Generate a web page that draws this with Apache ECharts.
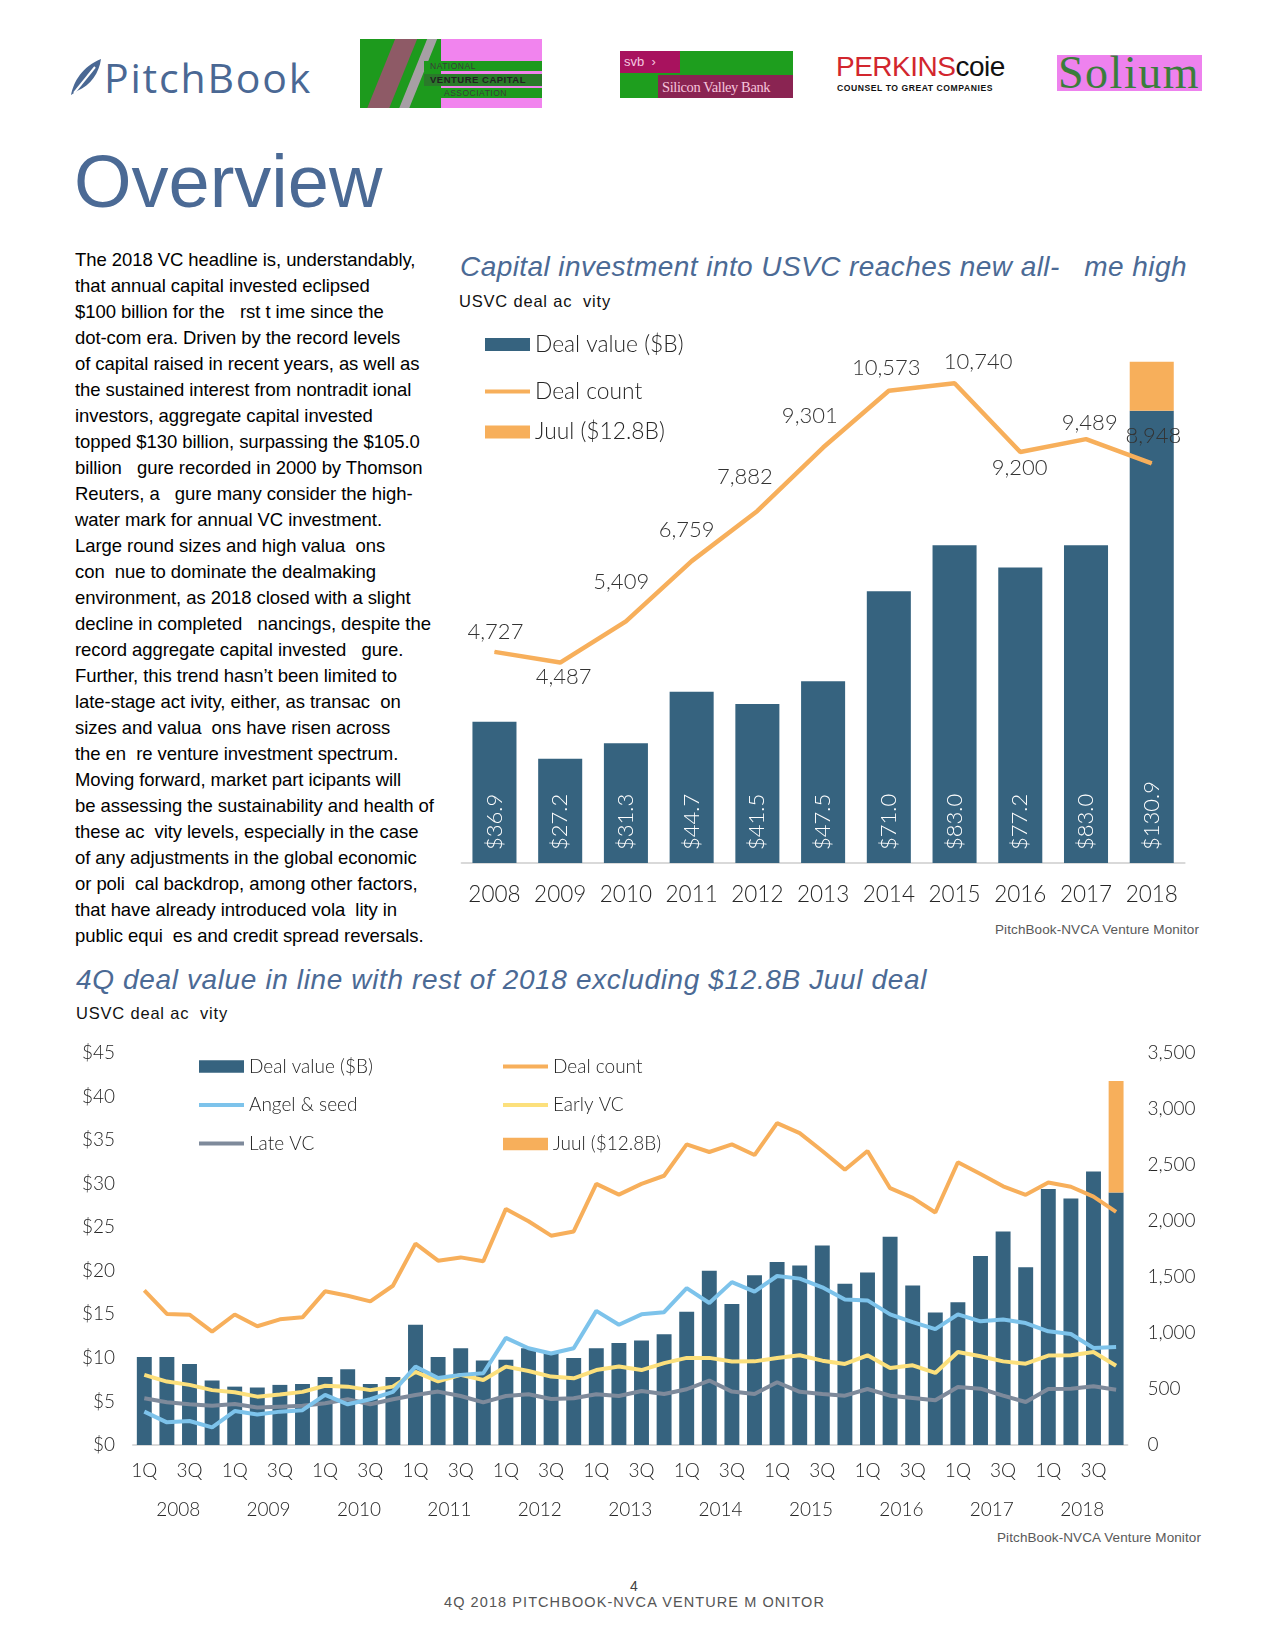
<!DOCTYPE html>
<html><head><meta charset="utf-8">
<script src="https://cdn.jsdelivr.net/npm/echarts@6/dist/echarts.min.js"></script>
<style>
html,body{margin:0;padding:0;background:#fff;}
#page{position:relative;width:1275px;height:1650px;overflow:hidden;font-family:'Liberation Sans',Arial,sans-serif;color:#000;}
.abs{position:absolute;white-space:pre;}
#chart{position:absolute;left:0;top:0;width:1275px;height:1650px;z-index:2;}
.body-text{position:absolute;left:75px;top:247px;font-size:18.5px;line-height:26px;letter-spacing:-0.07px;white-space:pre;}
.ttl{font-style:italic;color:#4B6A95;font-size:28px;line-height:34px;}
.sub{font-size:16.5px;line-height:20px;color:#111;}
.src{font-size:13.5px;line-height:18px;color:#595959;}
</style></head>
<body><div id="page">

<!-- header logos (decorative approximations) -->
<svg class="abs" style="left:68px;top:57px" width="36" height="40" viewBox="0 0 36 40">
  <path d="M3 38 C 6 24, 14 10, 33 2 C 31 16, 23 28, 9 34 Z" fill="#4A6894"/>
  <path d="M6 36 L 27 10" stroke="#fff" stroke-width="2"/>
</svg>
<div class="abs fit" data-w="208" style="left:104px;top:52px;font-family:'Open Sans';font-weight:500;font-size:41px;line-height:50px;color:#4A6894;">PitchBook</div>

<div class="abs" style="left:360px;top:39px;width:182px;height:69px;background:#1D9A1D;overflow:hidden;">
  <div class="abs" style="left:81px;top:0;width:101px;height:69px;background:#F184EE;"></div>
  <div class="abs" style="left:20px;top:-10px;width:22px;height:95px;background:#8E5A66;transform:skewX(-22deg);"></div>
  <div class="abs" style="left:52px;top:-10px;width:10px;height:95px;background:#C9A0C8;transform:skewX(-22deg);opacity:.8"></div>
  <div class="abs" style="left:64px;top:22px;width:118px;height:10px;background:#1D9A1D;"></div>
  <div class="abs" style="left:64px;top:35px;width:118px;height:12px;background:#2A7A2A;"></div>
  <div class="abs" style="left:64px;top:49px;width:118px;height:10px;background:#1D9A1D;"></div>
  <div class="abs" style="left:70px;top:22px;font-size:8.5px;line-height:10px;color:#3A3A3A;letter-spacing:.5px;">NATIONAL</div>
  <div class="abs" style="left:70px;top:35px;font-size:9.5px;line-height:12px;color:#222;letter-spacing:.5px;font-weight:bold;">VENTURE CAPITAL</div>
  <div class="abs" style="left:84px;top:49px;font-size:8.5px;line-height:10px;color:#3A3A3A;letter-spacing:.5px;">ASSOCIATION</div>
</div>

<div class="abs" style="left:620px;top:51px;width:173px;height:47px;background:#1E9E1E;overflow:hidden;">
  <div class="abs" style="left:0;top:0;width:60px;height:22px;background:#A8125E;"></div>
  <div class="abs" style="left:4px;top:2px;font-size:13px;line-height:18px;color:#F5C8E0;">svb  ›</div>
  <div class="abs" style="left:38px;top:24px;width:135px;height:23px;background:#8A2452;"></div>
  <div class="abs" style="left:42px;top:27px;font-family:'Liberation Serif';font-size:14.5px;line-height:18px;color:#F6C5DC;letter-spacing:-0.4px;">Silicon Valley Bank</div>
</div>

<div class="abs" style="left:836px;top:50px;font-size:28px;line-height:34px;letter-spacing:-0.5px;"><span style="color:#D2262E;">PERKINS</span><span style="color:#111;">coie</span></div>
<div class="abs" style="left:837px;top:83px;font-size:8.6px;line-height:11px;font-weight:bold;color:#111;letter-spacing:0.55px;">COUNSEL TO GREAT COMPANIES</div>

<div class="abs" style="left:1057px;top:55px;width:145px;height:36px;background:#EE82EE;"></div>
<div class="abs fit" data-w="142" style="left:1058px;top:48px;font-family:'Liberation Serif';font-size:46px;line-height:50px;color:#3B7D3B;">Solium</div>

<div class="abs" style="left:74px;top:142px;font-size:74px;line-height:80px;color:#4B6A95;">Overview</div>

<div class="body-text">The 2018 VC headline is, understandably,
that annual capital invested eclipsed
$100 billion for the   rst t ime since the
dot-com era. Driven by the record levels
of capital raised in recent years, as well as
the sustained interest from nontradit ional
investors, aggregate capital invested
topped $130 billion, surpassing the $105.0
billion   gure recorded in 2000 by Thomson
Reuters, a   gure many consider the high-
water mark for annual VC investment.
Large round sizes and high valua  ons
con  nue to dominate the dealmaking
environment, as 2018 closed with a slight
decline in completed   nancings, despite the
record aggregate capital invested   gure.
Further, this trend hasn’t been limited to
late-stage act ivity, either, as transac  on
sizes and valua  ons have risen across
the en  re venture investment spectrum.
Moving forward, market part icipants will
be assessing the sustainability and health of
these ac  vity levels, especially in the case
of any adjustments in the global economic
or poli  cal backdrop, among other factors,
that have already introduced vola  lity in
public equi  es and credit spread reversals.</div>

<div class="abs ttl fit" data-w="727" style="left:460px;top:250px;">Capital investment into USVC reaches new all-   me high</div>
<div class="abs sub fit" data-w="152" style="left:459px;top:291px;">USVC deal ac  vity</div>
<div class="abs src fit" data-w="204" style="right:76px;top:921px;">PitchBook-NVCA Venture Monitor</div>

<div class="abs ttl fit" data-w="851" style="left:76px;top:963px;">4Q deal value in line with rest of 2018 excluding $12.8B Juul deal</div>
<div class="abs sub fit" data-w="152" style="left:76px;top:1003px;">USVC deal ac  vity</div>
<div class="abs src fit" data-w="204" style="right:74px;top:1529px;">PitchBook-NVCA Venture Monitor</div>

<div class="abs" style="left:534px;width:200px;text-align:center;top:1577px;font-size:14px;line-height:18px;color:#404040;">4</div>
<div class="abs fit" data-w="381" style="left:444px;top:1593px;font-size:14.5px;line-height:18px;color:#555;">4Q 2018 PITCHBOOK-NVCA VENTURE M ONITOR</div>

<div id="chart"></div>
</div>
<script>
// ---------- data: annual (top chart) ----------
const years = ['2008','2009','2010','2011','2012','2013','2014','2015','2016','2017','2018'];
const annualTotalValue = [36.9, 27.2, 31.3, 44.7, 41.5, 47.5, 71.0, 83.0, 77.2, 83.0, 130.9];
const annualJuul = [null, null, null, null, null, null, null, null, null, null, 12.8];
const annualDealCount = [4727, 4487, 5409, 6759, 7882, 9301, 10573, 10740, 9200, 9489, 8948];

// ---------- data: quarterly (bottom chart) ----------
const quarterNames = ['1Q','2Q','3Q','4Q'];
const qDealValue = [10.1,10.1,9.3,7.4, 6.7,6.6,6.9,7.0, 7.8,8.7,7.0,7.8, 13.8,10.1,11.1,9.7,
  9.8,11.1,10.6,10.0, 11.1,11.7,12.0,12.7, 15.3,20.0,16.2,19.5, 21.0,20.6,22.9,18.5,
  19.8,23.9,18.3,15.2, 16.4,21.7,24.5,20.4, 29.4,28.3,31.4,29.0];
const qJuul = [null,null,null,null, null,null,null,null, null,null,null,null, null,null,null,null,
  null,null,null,null, null,null,null,null, null,null,null,null, null,null,null,null,
  null,null,null,null, null,null,null,null, null,null,null,12.8];
const qDealCount = [1380,1170,1164,1013, 1165,1060,1122,1140, 1372,1333,1282,1422, 1798,1646,1675,1640,
  2108,1998,1869,1907, 2331,2235,2331,2404, 2684,2616,2684,2589, 2874,2784,2625,2457,
  2625,2293,2206,2076, 2525,2420,2310,2234, 2343,2306,2217,2082];
const qAngelSeed = [3.83,2.6,2.76,2.03, 3.9,3.5,3.83,4.0, 5.75,4.67,5.25,6.1, 9.0,7.7,8.05,8.24,
  12.3,11.1,10.5,11.1, 15.4,13.8,15.0,15.25, 18.0,16.3,18.7,17.6, 19.4,19.1,18.1,16.7,
  16.6,15.0,14.1,13.3, 15.0,14.2,14.4,14.0, 13.05,12.74,11.14,11.25];
const qEarlyVC = [8.05,7.28,6.9,6.3, 6.05,5.55,5.8,6.1, 6.8,6.7,6.3,6.7, 8.4,7.3,8.05,7.47,
  9.0,8.5,7.85,7.66, 8.6,9.0,8.6,9.4, 10.0,10.0,9.58,9.6, 9.98,10.3,9.68,9.3,
  10.3,8.84,9.15,8.27, 10.68,10.18,9.6,9.34, 10.26,10.3,10.68,9.1];
const qLateVC = [5.36,4.9,4.67,4.5, 4.7,4.3,4.4,4.5, 4.8,5.25,4.67,5.25, 5.75,6.13,5.63,4.9,
  5.63,5.82,5.29,5.36, 5.82,5.63,6.2,5.86, 6.4,7.4,6.13,5.86, 7.2,6.1,5.86,5.66,
  6.43,5.66,5.4,5.13, 6.66,6.47,5.66,4.94, 6.43,6.47,6.74,6.35];
const leftTicks = {min: 0, max: 45, interval: 5};
const rightTicks = {min: 0, max: 3500, interval: 500};

// ---------- style ----------
const C_DARK = '#36637F', C_ORANGE = '#F7AF5B', C_BLUE = '#7DC3EB', C_YELLOW = '#FCE07C', C_GRAY = '#7E8A9B';
const LATO = 'Lato';
const countLabelOffsets = [[1,-20],[3.5,14],[-4.7,-39],[-5,-31],[-12.5,-34],[-13.3,-32],[-2.6,-23],[23.6,-21],[-0.7,16],[3.7,-16],[1.6,-27]];

const quarterCats = [];
years.forEach(y => quarterNames.forEach(q => quarterCats.push(q + ' ' + y)));
const annualDarkValue = annualTotalValue.map((t, i) => +(t - (annualJuul[i] || 0)).toFixed(1));

function legendItem(name, left, top, icon, itemHeight, fontSize) {
  return {
    data: [{name: name, icon: icon}], left: left, top: top, padding: 0, orient: 'horizontal',
    itemWidth: 45, itemHeight: itemHeight, itemGap: 0, selectedMode: false,
    textStyle: {fontFamily: LATO, fontWeight: 300, fontSize: fontSize, color: '#262626'}
  };
}

const chart = echarts.init(document.getElementById('chart'), null, {renderer: 'canvas'});
chart.setOption({
  animation: false,
  backgroundColor: 'transparent',
  grid: [
    {left: 461.6, right: 90.4, top: 327, bottom: 787, containLabel: false, outerBoundsMode: 'none'},
    {left: 133, right: 147.6, top: 1053, bottom: 205, containLabel: false, outerBoundsMode: 'none'}
  ],
  legend: [
    legendItem('Deal value ($B)', 485, 333, 'rect', 13, 22.8),
    legendItem('Deal count', 485, 380, 'rect', 4, 22.8),
    legendItem('Juul ($12.8B)', 485, 420.5, 'rect', 13, 22.8),
    legendItem('Deal value ($B)', 199, 1057, 'rect', 12.7, 19),
    legendItem('Angel & seed', 199, 1095.5, 'rect', 4, 19),
    legendItem('Late VC', 199, 1134, 'rect', 4, 19),
    legendItem('Deal count', 503, 1057, 'rect', 4, 19),
    legendItem('Early VC', 503, 1095.5, 'rect', 4, 19),
    legendItem('Juul ($12.8B)', 503, 1134.5, 'rect', 12.7, 19)
  ],
  xAxis: [
    {gridIndex: 0, type: 'category', data: years, boundaryGap: true,
      axisLine: {lineStyle: {color: '#D9D9D9', width: 2}}, axisTick: {show: false},
      axisLabel: {interval: 0, margin: 20, fontFamily: LATO, fontWeight: 300, fontSize: 22.5, color: '#262626'}},
    {gridIndex: 1, type: 'category', data: quarterCats, boundaryGap: true,
      axisLine: {lineStyle: {color: '#D9D9D9', width: 2}}, axisTick: {show: false},
      axisLabel: {interval: 1, margin: 16, fontFamily: LATO, fontWeight: 300, fontSize: 19, color: '#262626',
        formatter: v => v.split(' ')[0]}},
    {gridIndex: 1, type: 'category', data: years, position: 'bottom', offset: 40, boundaryGap: true,
      axisLine: {show: false}, axisTick: {show: false}, splitLine: {show: false},
      axisLabel: {interval: 0, margin: 15, fontFamily: LATO, fontWeight: 300, fontSize: 19, color: '#262626'}}
  ],
  yAxis: [
    {gridIndex: 0, type: 'value', min: 0, max: 140, show: false, splitLine: {show: false}},
    {gridIndex: 0, type: 'value', min: 0, max: 12000, show: false, splitLine: {show: false}},
    {gridIndex: 1, type: 'value', min: leftTicks.min, max: leftTicks.max, interval: leftTicks.interval,
      axisLine: {show: false}, axisTick: {show: false}, splitLine: {show: false},
      axisLabel: {margin: 18, fontFamily: LATO, fontWeight: 300, fontSize: 19, color: '#262626', formatter: v => '$' + v}},
    {gridIndex: 1, type: 'value', position: 'right', min: rightTicks.min, max: rightTicks.max, interval: rightTicks.interval,
      axisLine: {show: false}, axisTick: {show: false}, splitLine: {show: false},
      axisLabel: {margin: 20, fontFamily: LATO, fontWeight: 300, fontSize: 19, color: '#262626',
        formatter: v => v.toLocaleString('en-US')}}
  ],
  series: [
    // top chart
    {name: 'Deal value ($B)', type: 'bar', xAxisIndex: 0, yAxisIndex: 0, stack: 'annual', barWidth: '67%',
      data: annualDarkValue, itemStyle: {color: C_DARK},
      label: {show: true, position: 'insideBottom', rotate: 90, distance: 13, align: 'left', verticalAlign: 'middle',
        fontFamily: LATO, fontWeight: 300, fontSize: 22, color: '#fff',
        formatter: p => '$' + annualTotalValue[p.dataIndex].toFixed(1)}},
    {name: 'Juul ($12.8B)', type: 'bar', xAxisIndex: 0, yAxisIndex: 0, stack: 'annual', barWidth: '67%',
      data: annualJuul, itemStyle: {color: C_ORANGE}},
    {name: 'Deal count', type: 'line', xAxisIndex: 0, yAxisIndex: 1, z: 5,
      data: annualDealCount.map((v, i) => ({value: v, label: {offset: countLabelOffsets[i]}})),
      symbol: 'circle', symbolSize: 1, showSymbol: true, itemStyle: {color: C_ORANGE},
      lineStyle: {color: C_ORANGE, width: 4.5},
      label: {show: true, position: 'inside', fontFamily: LATO, fontWeight: 300, fontSize: 22, color: '#333',
        formatter: p => p.value.toLocaleString('en-US')}},
    // bottom chart
    {name: 'Deal value ($B)', type: 'bar', xAxisIndex: 1, yAxisIndex: 2, stack: 'quarter', barWidth: '66%',
      data: qDealValue, itemStyle: {color: C_DARK}},
    {name: 'Juul ($12.8B)', type: 'bar', xAxisIndex: 1, yAxisIndex: 2, stack: 'quarter', barWidth: '66%',
      data: qJuul, itemStyle: {color: C_ORANGE}},
    {name: 'Late VC', type: 'line', xAxisIndex: 1, yAxisIndex: 2, data: qLateVC, showSymbol: false, symbol: 'none',
      itemStyle: {color: C_GRAY}, lineStyle: {color: C_GRAY, width: 4}, z: 3},
    {name: 'Early VC', type: 'line', xAxisIndex: 1, yAxisIndex: 2, data: qEarlyVC, showSymbol: false, symbol: 'none',
      itemStyle: {color: C_YELLOW}, lineStyle: {color: C_YELLOW, width: 4}, z: 3},
    {name: 'Angel & seed', type: 'line', xAxisIndex: 1, yAxisIndex: 2, data: qAngelSeed, showSymbol: false, symbol: 'none',
      itemStyle: {color: C_BLUE}, lineStyle: {color: C_BLUE, width: 4}, z: 3},
    {name: 'Deal count', type: 'line', xAxisIndex: 1, yAxisIndex: 3, data: qDealCount, showSymbol: false, symbol: 'none',
      itemStyle: {color: C_ORANGE}, lineStyle: {color: C_ORANGE, width: 4}, z: 4}
  ]
});

// fit a few text lines to the widths
document.querySelectorAll('.fit').forEach(el => {
  const target = +el.dataset.w;
  el.style.letterSpacing = '0px';
  const w = el.getBoundingClientRect().width;
  const n = el.textContent.length;
  if (n > 1) el.style.letterSpacing = ((target - w) / n).toFixed(3) + 'px';
});
</script>
</body></html>
